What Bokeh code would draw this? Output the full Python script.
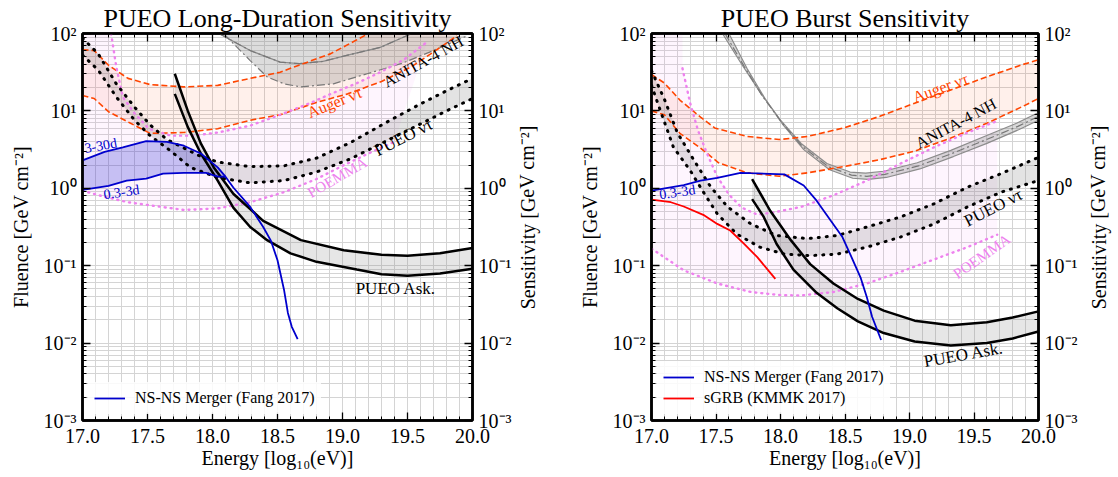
import math
import numpy as np
from bokeh.plotting import figure
from bokeh.models import (Range1d, LinearAxis, LogAxis, SingleIntervalTicker, LogTicker,
                          CustomJSTickFormatter, PrintfTickFormatter, Legend, LegendItem)
from bokeh.layouts import row
from bokeh.embed import file_html
from bokeh.resources import INLINE
from bokeh.core.properties import value

FONT = "Liberation Serif"

# ---------------- DATA (x: log10(E/eV), y: log10(fluence / GeV cm^-2)) ----------------
# Long-duration panel
ld_anita_hi_e = [18.06, 18.29, 18.52, 18.67, 18.85, 19.04, 19.29, 19.52]
ld_anita_hi = [1.99, 1.78, 1.63, 1.61, 1.64, 1.72, 1.82, 1.99]
ld_anita_lo_e = [18.09, 18.29, 18.42, 18.55, 18.68, 18.93, 19.19, 19.45, 19.7, 19.96]
ld_anita_lo = [1.99, 1.65, 1.44, 1.35, 1.31, 1.35, 1.48, 1.61, 1.78, 1.97]

ld_auger_hi_e = [17.0, 17.09, 17.2, 17.35, 17.52, 17.78, 18.04, 18.29, 18.52, 18.73, 18.91, 19.19]
ld_auger_hi = [1.79, 1.78, 1.59, 1.42, 1.34, 1.31, 1.33, 1.42, 1.50, 1.63, 1.74, 1.99]
ld_auger_lo_e = [17.0, 17.09, 17.2, 17.37, 17.52, 17.78, 18.04, 18.29, 18.52, 18.8, 19.04, 19.3, 19.53, 19.7, 19.88]
ld_auger_lo = [1.20, 1.16, 0.99, 0.84, 0.71, 0.72, 0.77, 0.88, 0.95, 1.11, 1.22, 1.38, 1.57, 1.76, 1.97]

ld_poemma_hi_e = [17.22, 17.26, 17.31, 17.4, 17.51, 17.68, 17.85, 18.04, 18.29, 18.52, 18.75, 18.91, 19.1, 19.29, 19.47, 19.65]
ld_poemma_hi = [2.0, 1.57, 1.18, 0.97, 0.77, 0.68, 0.68, 0.72, 0.81, 0.95, 1.10, 1.22, 1.35, 1.50, 1.66, 1.89]
ld_poemma_lo_e = [17.0, 17.17, 17.35, 17.52, 17.78, 18.04, 18.29, 18.55, 18.8, 19.0, 19.2, 19.4]
ld_poemma_lo = [-0.03, -0.11, -0.18, -0.22, -0.28, -0.26, -0.18, -0.05, 0.12, 0.29, 0.45, 0.60]

ld_nutau_hi_e = [17.0, 17.12, 17.26, 17.4, 17.52, 17.65, 17.78, 17.9, 18.04, 18.29, 18.55, 18.8, 19.06, 19.24, 19.4, 19.6, 19.8, 20.0]
ld_nutau_hi = [1.94, 1.74, 1.35, 1.05, 0.82, 0.63, 0.52, 0.42, 0.34, 0.28, 0.29, 0.39, 0.59, 0.76, 0.91, 1.09, 1.26, 1.42]
ld_nutau_lo_e = [17.0, 17.12, 17.26, 17.4, 17.52, 17.68, 17.83, 18.04, 18.29, 18.55, 18.8, 19.06, 19.3, 19.55, 19.8, 20.0]
ld_nutau_lo = [1.72, 1.53, 1.18, 0.88, 0.68, 0.48, 0.27, 0.14, 0.07, 0.10, 0.21, 0.38, 0.58, 0.79, 1.00, 1.16]

ld_ask_hi_e = [17.71, 17.81, 17.91, 18.01, 18.16, 18.39, 18.68, 19.01, 19.3, 19.5, 19.75, 20.0]
ld_ask_hi = [1.48, 1.00, 0.58, 0.27, -0.07, -0.42, -0.67, -0.80, -0.86, -0.87, -0.84, -0.77]
ld_ask_lo_e = [17.71, 17.81, 17.91, 18.04, 18.16, 18.29, 18.42, 18.6, 18.8, 19.11, 19.3, 19.5, 19.75, 20.0]
ld_ask_lo = [1.22, 0.79, 0.45, 0.10, -0.25, -0.50, -0.67, -0.84, -0.95, -1.05, -1.11, -1.13, -1.10, -1.04]

ld_ns_hi_e = [17.0, 17.17, 17.31, 17.49, 17.65, 17.78, 17.91, 18.04, 18.1, 18.16, 18.29, 18.39, 18.45, 18.5, 18.55, 18.58, 18.61, 18.655]
ld_ns_hi = [0.36, 0.47, 0.53, 0.61, 0.60, 0.55, 0.45, 0.27, 0.15, 0.01, -0.24, -0.50, -0.68, -0.93, -1.31, -1.61, -1.79, -1.95]
ld_ns_lo_e = [17.0, 17.2, 17.34, 17.49, 17.62, 17.78, 17.95, 18.04, 18.1]
ld_ns_lo = [-0.02, 0.03, 0.10, 0.125, 0.19, 0.20, 0.20, 0.15, 0.15]

# Burst panel
bu_anita_hi_e = [17.55, 17.7, 17.85, 18.0, 18.16, 18.36, 18.54, 18.66, 18.8, 19.06, 19.32, 19.58, 19.83, 20.0]
bu_anita_hi = [2.0, 1.6, 1.22, 0.88, 0.58, 0.32, 0.21, 0.195, 0.22, 0.33, 0.49, 0.67, 0.84, 0.98]
bu_anita_mid_e = [17.57, 17.72, 17.86, 18.01, 18.17, 18.37, 18.55, 18.67, 18.81, 19.07, 19.33, 19.59, 19.84, 20.0]
bu_anita_mid = [2.0, 1.57, 1.19, 0.85, 0.54, 0.28, 0.17, 0.155, 0.18, 0.29, 0.45, 0.625, 0.80, 0.93]
bu_anita_lo_e = [17.6, 17.74, 17.88, 18.02, 18.18, 18.38, 18.56, 18.68, 18.82, 19.08, 19.34, 19.6, 19.85, 20.0]
bu_anita_lo = [2.0, 1.55, 1.16, 0.82, 0.50, 0.24, 0.13, 0.115, 0.14, 0.25, 0.41, 0.58, 0.76, 0.88]

bu_auger_hi_e = [17.0, 17.1, 17.22, 17.38, 17.49, 17.74, 17.99, 18.21, 18.49, 18.77, 19.04, 19.32, 19.6, 19.88, 20.0]
bu_auger_hi = [1.47, 1.36, 1.14, 0.92, 0.78, 0.67, 0.63, 0.67, 0.78, 0.93, 1.10, 1.27, 1.44, 1.60, 1.66]
bu_auger_lo_e = [17.0, 17.1, 17.22, 17.38, 17.52, 17.74, 17.99, 18.21, 18.49, 18.77, 19.04, 19.32, 19.6, 19.88, 20.0]
bu_auger_lo = [1.00, 0.95, 0.71, 0.52, 0.33, 0.20, 0.155, 0.20, 0.28, 0.37, 0.48, 0.65, 0.84, 1.06, 1.16]

bu_poemma_hi_e = [17.24, 17.3, 17.36, 17.43, 17.51, 17.6, 17.7, 17.82, 17.95, 18.16, 18.41, 18.67, 18.93, 19.19, 19.45, 19.68]
bu_poemma_hi = [1.55, 1.10, 0.75, 0.45, 0.15, -0.08, -0.25, -0.34, -0.31, -0.24, -0.09, 0.10, 0.32, 0.53, 0.72, 0.87]
bu_poemma_lo_e = [17.0, 17.25, 17.51, 17.77, 18.0, 18.16, 18.41, 18.67, 18.93, 19.19, 19.45, 19.68]
bu_poemma_lo = [-0.78, -1.06, -1.23, -1.34, -1.38, -1.385, -1.34, -1.23, -1.08, -0.92, -0.76, -0.60]

bu_nutau_hi_e = [17.0, 17.1, 17.2, 17.33, 17.46, 17.59, 17.77, 17.97, 18.21, 18.44, 18.67, 18.93, 19.19, 19.45, 19.71, 20.0]
bu_nutau_hi = [1.52, 1.15, 0.72, 0.36, 0.015, -0.24, -0.46, -0.61, -0.65, -0.61, -0.50, -0.37, -0.20, 0.015, 0.19, 0.40]
bu_nutau_lo_e = [17.0, 17.08, 17.17, 17.3, 17.41, 17.51, 17.66, 17.84, 18.03, 18.23, 18.44, 18.67, 18.93, 19.19, 19.45, 19.71, 20.0]
bu_nutau_lo = [1.33, 0.95, 0.53, 0.23, -0.07, -0.33, -0.59, -0.76, -0.85, -0.87, -0.85, -0.76, -0.63, -0.46, -0.24, -0.05, 0.10]

bu_ask_hi_e = [17.78, 17.92, 18.08, 18.23, 18.41, 18.6, 18.8, 19.04, 19.32, 19.6, 19.8, 20.0]
bu_ask_hi = [0.12, -0.29, -0.67, -0.98, -1.23, -1.43, -1.58, -1.71, -1.77, -1.73, -1.67, -1.59]
bu_ask_lo_e = [17.78, 17.87, 17.97, 18.1, 18.28, 18.44, 18.6, 18.8, 19.04, 19.32, 19.6, 19.8, 20.0]
bu_ask_lo = [-0.14, -0.37, -0.72, -1.05, -1.35, -1.55, -1.72, -1.87, -1.98, -2.03, -2.00, -1.94, -1.85]

bu_ns_e = [17.0, 17.25, 17.38, 17.51, 17.69, 17.77, 18.03, 18.18, 18.28, 18.39, 18.48, 18.54, 18.62, 18.67, 18.71, 18.78]
bu_ns = [-0.03, 0.04, 0.10, 0.135, 0.20, 0.195, 0.18, 0.036, -0.16, -0.42, -0.63, -0.85, -1.15, -1.41, -1.66, -1.96]

bu_sgrb_e = [17.0, 17.15, 17.25, 17.41, 17.51, 17.61, 17.72, 17.82, 17.96]
bu_sgrb = [-0.145, -0.18, -0.235, -0.35, -0.46, -0.545, -0.72, -0.89, -1.17]

X_MIN, X_MAX = 17.0, 20.0
Y_MIN, Y_MAX = 1e-3, 1e2

# ---------------- helpers ----------------
SUP = CustomJSTickFormatter(code="""
const s = {"-":"\u207b","0":"\u2070","1":"\u00b9","2":"\u00b2","3":"\u00b3","4":"\u2074","5":"\u2075","6":"\u2076","7":"\u2077","8":"\u2078","9":"\u2079"};
const e = Math.round(Math.log10(tick));
return "10" + String(e).split("").map(c => s[c]).join("");
""")
BLANK = CustomJSTickFormatter(code="return '';")

GRID = "#d4d4d4"
FIG_H = 477
FRAME_TOP, FRAME_H = 33, 387
RIGHT_PAD = 45


def lin(v):
    return [10 ** a for a in v]


def style_axis(ax, label_standoff, tick_standoff=6):
    ax.major_tick_in = 8
    ax.major_tick_out = 0
    ax.minor_tick_in = 4
    ax.minor_tick_out = 0
    ax.major_tick_line_width = 1.3
    ax.minor_tick_line_width = 1
    ax.major_tick_line_color = "black"
    ax.minor_tick_line_color = "black"
    ax.axis_line_width = 2.5
    ax.axis_line_color = "black"
    ax.major_label_text_font = FONT
    ax.major_label_text_font_size = "20px"
    ax.major_label_text_color = "black"
    ax.major_label_standoff = tick_standoff
    ax.axis_label_text_font = FONT
    ax.axis_label_text_font_size = "20px"
    ax.axis_label_text_font_style = "normal"
    ax.axis_label_text_color = "black"
    ax.axis_label_standoff = label_standoff


def make_fig(title, bl, fw):
    p = figure(width=bl + fw + RIGHT_PAD, height=FIG_H, x_range=Range1d(X_MIN, X_MAX),
               y_range=Range1d(Y_MIN, Y_MAX), y_axis_type="log", output_backend="svg",
               toolbar_location=None, min_border_left=bl, min_border_right=RIGHT_PAD,
               min_border_top=FRAME_TOP, min_border_bottom=FIG_H - FRAME_TOP - FRAME_H)
    xt = SingleIntervalTicker(interval=0.5, num_minor_ticks=5)
    yt = LogTicker(desired_num_ticks=6, num_minor_ticks=10)
    bottom = p.below[0]
    left = p.left[0]
    bottom.ticker = xt
    bottom.formatter = PrintfTickFormatter(format="%.1f")
    bottom.axis_label = "Energy [log\u2081\u2080(eV)]"
    left.ticker = yt
    left.formatter = SUP
    left.axis_label = "Fluence [GeV cm\u207b\u00b2]"
    top = LinearAxis(ticker=xt, formatter=BLANK)
    right = LogAxis(ticker=yt, formatter=SUP)
    p.add_layout(top, "above")
    p.add_layout(right, "right")
    style_axis(bottom, 1, 8)
    style_axis(left, 9)
    style_axis(top, 0, 0)
    style_axis(right, 6)
    top.major_label_text_font_size = "1px"
    p.xgrid.ticker = xt
    p.ygrid.ticker = yt
    for g in [p.xgrid[0], p.ygrid[0]]:
        g.grid_line_color = GRID
        g.minor_grid_line_color = GRID
        g.grid_line_width = 1
        g.minor_grid_line_width = 1
    p.outline_line_color = "black"
    p.outline_line_width = 2.5
    p.background_fill_color = "white"
    p.border_fill_color = "white"
    p.title.text = title
    p.title.text_font = FONT
    p.title.text_font_size = "26px"
    p.title.text_font_style = "normal"
    p.title.text_color = "black"
    p.title.align = "center"
    p.title.standoff = 2
    p.title.offset = 0
    return p


def side_title(width, cx, text):
    # narrow strip holding the right-hand (secondary) axis title, reading bottom-to-top
    s = figure(width=width, height=FIG_H, x_range=Range1d(0, width), y_range=Range1d(0, FIG_H),
               x_axis_location=None, y_axis_location=None, output_backend="svg",
               toolbar_location=None, min_border=0)
    s.grid.visible = False
    s.outline_line_color = None
    s.background_fill_color = "white"
    s.border_fill_color = "white"
    s.text(x=[cx], y=[FIG_H - FRAME_TOP - FRAME_H / 2], text=[text], angle=[math.pi / 2],
           text_align="center", text_baseline="middle", text_font=value(FONT),
           text_font_size="20px", text_color="black")
    return s


def band(p, xa, ya, xb, yb, color, alpha):
    p.patch(list(xa) + list(xb)[::-1], lin(list(ya) + list(yb)[::-1]),
            fill_color=color, fill_alpha=alpha, line_color=None)


def labels(p, items):
    for (txt, x, ly, ang, col, size) in items:
        p.text(x=[x], y=[10 ** ly], text=[txt], angle=[math.radians(ang)], text_color=col,
               text_font=value(FONT), text_font_size=size, text_align="center",
               text_baseline="middle")


AUGER_C = "orangered"
POEMMA_C = "violet"
NS_C = "mediumblue"
ANITA_C = "#8c8c8c"
SENS = "Sensitivity [GeV cm\u207b\u00b2]"

# ---------------- Left: long duration ----------------
p1 = make_fig("PUEO Long-Duration Sensitivity", 82, 390)

band(p1, [ld_poemma_lo_e[0], ld_poemma_hi_e[0]] + ld_poemma_hi_e,
     [math.log10(Y_MAX), math.log10(Y_MAX)] + ld_poemma_hi, ld_poemma_lo_e, ld_poemma_lo, POEMMA_C, 0.08)
band(p1, ld_auger_hi_e + [ld_auger_lo_e[-1]], ld_auger_hi + [math.log10(Y_MAX)],
     ld_auger_lo_e, ld_auger_lo, AUGER_C, 0.08)
band(p1, [ld_anita_lo_e[0]], [math.log10(Y_MAX)], ld_anita_lo_e, ld_anita_lo, "gray", 0.28)
band(p1, ld_nutau_hi_e, ld_nutau_hi, ld_nutau_lo_e, ld_nutau_lo, "gray", 0.22)
band(p1, ld_ask_hi_e, ld_ask_hi, ld_ask_lo_e, ld_ask_lo, "gray", 0.2)
ns_fill_e = [e for e in ld_ns_hi_e if e <= ld_ns_lo_e[-1]]
band(p1, ns_fill_e, ld_ns_hi[:len(ns_fill_e)], ld_ns_lo_e, ld_ns_lo, NS_C, 0.22)

p1.line(ld_anita_hi_e, lin(ld_anita_hi), line_color=ANITA_C, line_width=1.3)
p1.line(ld_anita_hi_e, lin(ld_anita_hi), line_color="#777777", line_width=1.2, line_dash="8 3 2 3")
p1.line(ld_anita_lo_e, lin(ld_anita_lo), line_color="#777777", line_width=1.2, line_dash="8 3 2 3")
for e, v in [(ld_auger_hi_e, ld_auger_hi), (ld_auger_lo_e, ld_auger_lo)]:
    p1.line(e, lin(v), line_color=AUGER_C, line_width=1.6, line_dash="6 3")
for e, v in [(ld_poemma_hi_e, ld_poemma_hi), (ld_poemma_lo_e, ld_poemma_lo)]:
    p1.line(e, lin(v), line_color=POEMMA_C, line_width=2.4, line_dash="1 5", line_cap="round")
for e, v in [(ld_nutau_hi_e, ld_nutau_hi), (ld_nutau_lo_e, ld_nutau_lo)]:
    p1.line(e, lin(v), line_color="black", line_width=3, line_dash="1 7", line_cap="round")
for e, v in [(ld_ask_hi_e, ld_ask_hi), (ld_ask_lo_e, ld_ask_lo)]:
    p1.line(e, lin(v), line_color="black", line_width=2.5)
r_ns1 = p1.line(ld_ns_hi_e, lin(ld_ns_hi), line_color=NS_C, line_width=1.8)
p1.line(ld_ns_lo_e, lin(ld_ns_lo), line_color=NS_C, line_width=1.8)

labels(p1, [
    ("ANITA-4 NH", 19.62, 1.64, 29, "black", "16px"),
    ("Auger \u03bd\u03c4", 18.94, 1.11, 22, AUGER_C, "16px"),
    ("PUEO \u03bd\u03c4", 19.47, 0.66, 27, "black", "17px"),
    ("POEMMA", 18.96, 0.14, 30, POEMMA_C, "15px"),
    ("3-30d", 17.14, 0.55, 10, NS_C, "14px"),
    ("0.3-3d", 17.3, -0.05, 8, NS_C, "14px"),
    ("PUEO Ask.", 19.41, -1.29, 0, "black", "17px"),
])

leg1 = Legend(items=[LegendItem(label="NS-NS Merger (Fang 2017)", renderers=[r_ns1])],
              location="bottom_left")
p1.add_layout(leg1)

s1 = side_title(42, 10, SENS)

# ---------------- Right: burst ----------------
p2 = make_fig("PUEO Burst Sensitivity", 92, 387)

band(p2, [bu_poemma_lo_e[0], bu_poemma_hi_e[0]] + bu_poemma_hi_e,
     [math.log10(Y_MAX), math.log10(Y_MAX)] + bu_poemma_hi, bu_poemma_lo_e, bu_poemma_lo, POEMMA_C, 0.08)
band(p2, bu_auger_hi_e, bu_auger_hi, bu_auger_lo_e, bu_auger_lo, AUGER_C, 0.08)
band(p2, bu_anita_hi_e, bu_anita_hi, bu_anita_lo_e, bu_anita_lo, "gray", 0.3)
band(p2, bu_nutau_hi_e, bu_nutau_hi, bu_nutau_lo_e, bu_nutau_lo, "gray", 0.22)
band(p2, bu_ask_hi_e, bu_ask_hi, bu_ask_lo_e, bu_ask_lo, "gray", 0.2)

for e, v in [(bu_anita_hi_e, bu_anita_hi), (bu_anita_lo_e, bu_anita_lo)]:
    p2.line(e, lin(v), line_color=ANITA_C, line_width=1.2)
p2.line(bu_anita_mid_e, lin(bu_anita_mid), line_color="#777777", line_width=1.2, line_dash="8 3 2 3")
for e, v in [(bu_auger_hi_e, bu_auger_hi), (bu_auger_lo_e, bu_auger_lo)]:
    p2.line(e, lin(v), line_color=AUGER_C, line_width=1.6, line_dash="6 3")
for e, v in [(bu_poemma_hi_e, bu_poemma_hi), (bu_poemma_lo_e, bu_poemma_lo)]:
    p2.line(e, lin(v), line_color=POEMMA_C, line_width=2.4, line_dash="1 5", line_cap="round")
for e, v in [(bu_nutau_hi_e, bu_nutau_hi), (bu_nutau_lo_e, bu_nutau_lo)]:
    p2.line(e, lin(v), line_color="black", line_width=3, line_dash="1 7", line_cap="round")
for e, v in [(bu_ask_hi_e, bu_ask_hi), (bu_ask_lo_e, bu_ask_lo)]:
    p2.line(e, lin(v), line_color="black", line_width=2.5)
r_ns2 = p2.line(bu_ns_e, lin(bu_ns), line_color=NS_C, line_width=1.8)
r_sg2 = p2.line(bu_sgrb_e, lin(bu_sgrb), line_color="red", line_width=1.8)

labels(p2, [
    ("Auger \u03bd\u03c4", 19.24, 1.30, 20, AUGER_C, "16px"),
    ("ANITA-4 NH", 19.36, 0.84, 28, "black", "16px"),
    ("PUEO \u03bd\u03c4", 19.65, -0.25, 27, "black", "17px"),
    ("POEMMA", 19.56, -0.88, 35, POEMMA_C, "15px"),
    ("0.3-3d", 17.2, -0.05, 8, NS_C, "14px"),
    ("PUEO Ask.", 19.42, -2.15, 10, "black", "17px"),
])

leg2 = Legend(items=[LegendItem(label="NS-NS Merger (Fang 2017)", renderers=[r_ns2]),
                     LegendItem(label="sGRB (KMMK 2017)", renderers=[r_sg2])],
              location="bottom_left")
p2.add_layout(leg2)

s2 = side_title(35, 15, SENS)

for lg in [leg1, leg2]:
    lg.label_text_font = FONT
    lg.label_text_font_size = "16px"
    lg.label_text_color = "black"
    lg.border_line_alpha = 0
    lg.background_fill_alpha = 0.85
    lg.margin = 6
    lg.padding = 6
    lg.glyph_width = 31
    lg.glyph_height = 20
    lg.label_standoff = 10
    lg.spacing = 1

layout = row(p1, s1, p2, s2)
open("out.html", "w").write(file_html(layout, INLINE))
